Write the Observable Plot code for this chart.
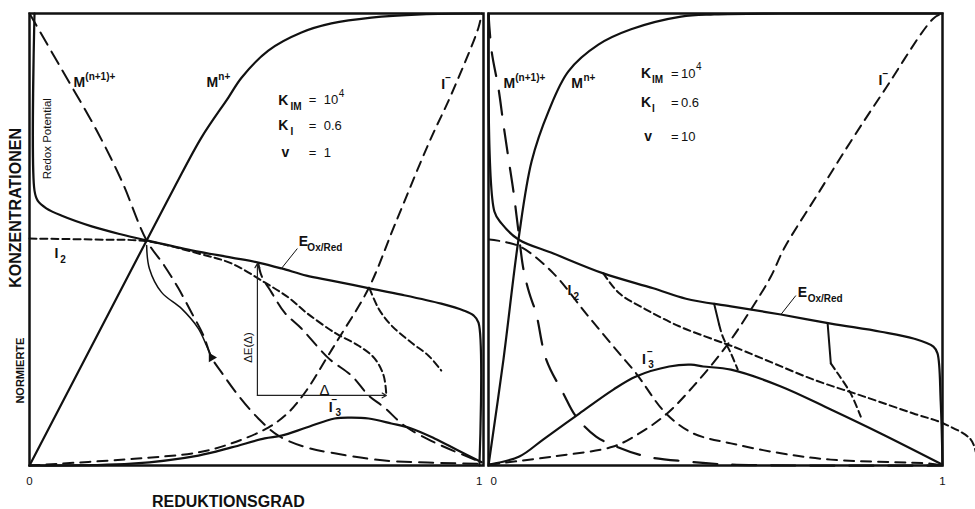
<!DOCTYPE html>
<html>
<head>
<meta charset="utf-8">
<script src="https://cdn.jsdelivr.net/npm/d3@7"></script>
<script src="https://cdn.jsdelivr.net/npm/@observablehq/plot@0.6"></script>
<style>
  html, body { margin: 0; padding: 0; background: #fff; }
  #chart svg { display: block; }
</style>
</head>
<body>
<div id="chart"></div>
<script>
// ---------- data (x = Reduktionsgrad 0..1, y = normierte Konzentration 0..1) ----------
const panels = ["L", "R"];

// left panel (v = 1)
const leftRedox = [[0.011,1.0],[0.011,0.608],[0.018,0.586],[0.037,0.569],[0.070,0.553],[0.137,0.529],[0.203,0.511],[0.258,0.498],[0.357,0.476],[0.445,0.460],[0.504,0.449],[0.555,0.436],[0.610,0.420],[0.665,0.409],[0.749,0.392],[0.819,0.378],[0.907,0.358],[0.956,0.343],[0.978,0.332],[0.989,0.316],[0.991,0.0]];
const leftMn = [[0,0],[0.258,0.498],[0.319,0.615],[0.379,0.726],[0.438,0.814],[0.467,0.858],[0.526,0.918],[0.599,0.958],[0.665,0.978],[0.753,0.991],[0.863,0.998],[0.991,1.0]];
const leftMox = [[0,1],[0.066,0.885],[0.148,0.741],[0.203,0.630],[0.258,0.498],[0.297,0.442],[0.328,0.392],[0.357,0.338],[0.383,0.288],[0.401,0.239],[0.423,0.206],[0.460,0.155],[0.504,0.104],[0.548,0.066],[0.610,0.040],[0.672,0.027],[0.782,0.011],[0.996,0.004]];
const leftMoxBranch = [[0.258,0.487],[0.264,0.436],[0.291,0.383],[0.335,0.347],[0.372,0.303],[0.390,0.265],[0.401,0.239]];
const leftI2 = [[0,0.502],[0.137,0.500],[0.258,0.496],[0.372,0.469],[0.445,0.447],[0.518,0.405],[0.570,0.372],[0.610,0.338],[0.672,0.294],[0.725,0.265],[0.760,0.237],[0.780,0.199],[0.786,0.155]];
const leftI2Branch = [[0.504,0.447],[0.511,0.420],[0.533,0.383],[0.562,0.338],[0.599,0.303],[0.659,0.237],[0.709,0.199],[0.747,0.155],[0.782,0.128],[0.826,0.088],[0.892,0.051],[0.996,0.007]];
const leftIminus = [[0,0],[0.231,0.015],[0.372,0.029],[0.445,0.049],[0.526,0.084],[0.570,0.117],[0.610,0.166],[0.654,0.237],[0.681,0.281],[0.747,0.392],[0.804,0.531],[0.879,0.712],[0.930,0.823],[0.989,0.969],[0.996,1.0]];
const leftIminusBranch = [[0.749,0.392],[0.769,0.347],[0.797,0.310],[0.841,0.272],[0.879,0.243],[0.907,0.210]];
const leftI3 = [[0,0],[0.225,0.004],[0.372,0.022],[0.445,0.040],[0.518,0.060],[0.555,0.066],[0.610,0.084],[0.672,0.104],[0.709,0.106],[0.747,0.104],[0.797,0.093],[0.841,0.082],[0.892,0.060],[0.941,0.035],[0.996,0.007]];
const leftDeltaArrows = [{x1:0.502,y1:0.155,x2:0.502,y2:0.447},{x1:0.502,y1:0.155,x2:0.786,y2:0.155}];
const leftMarker = [[0.401,0.239]];

// right panel (v = 10)
const rightRedox = [[0,0.998],[0.013,0.562],[0.029,0.535],[0.066,0.500],[0.143,0.469],[0.253,0.425],[0.363,0.392],[0.435,0.369],[0.534,0.352],[0.644,0.334],[0.754,0.314],[0.864,0.296],[0.936,0.281],[0.980,0.263],[0.989,0.248],[0.996,0.142],[1.0,0.002]];
const rightMn = [[0,0],[0.033,0.235],[0.066,0.500],[0.095,0.673],[0.132,0.783],[0.176,0.872],[0.242,0.931],[0.314,0.965],[0.424,0.993],[0.497,0.998],[0.644,1.0],[1.0,1.0]];
const rightMox = [[0,1],[0.007,0.916],[0.022,0.834],[0.033,0.754],[0.044,0.679],[0.055,0.606],[0.066,0.518],[0.077,0.434],[0.090,0.381],[0.105,0.336],[0.127,0.235],[0.165,0.159],[0.193,0.108],[0.237,0.064],[0.281,0.042],[0.347,0.020],[0.435,0.009],[0.534,0.002],[1.0,0.0]];
const rightI2 = [[0.002,0.500],[0.068,0.485],[0.143,0.425],[0.215,0.336],[0.288,0.248],[0.325,0.204],[0.391,0.115],[0.451,0.071],[0.534,0.049],[0.644,0.027],[0.754,0.013],[0.974,0.004],[1.0,0.0]];
const rightI2Branch = [[0.253,0.425],[0.288,0.381],[0.347,0.345],[0.420,0.308],[0.495,0.279],[0.534,0.265],[0.607,0.235],[0.716,0.190],[0.826,0.153],[0.936,0.115],[1.002,0.093],[1.062,0.058],[1.073,0.031]];
const rightI3 = [[0.002,0.002],[0.068,0.020],[0.121,0.058],[0.200,0.115],[0.275,0.168],[0.325,0.197],[0.398,0.219],[0.446,0.223],[0.473,0.219],[0.534,0.212],[0.644,0.175],[0.754,0.124],[0.864,0.071],[0.996,0.004]];
const rightIminus = [[0.002,0.002],[0.143,0.020],[0.275,0.042],[0.332,0.071],[0.391,0.113],[0.451,0.175],[0.523,0.263],[0.578,0.345],[0.622,0.418],[0.651,0.480],[0.725,0.600],[0.798,0.717],[0.870,0.827],[0.980,0.989],[1.0,1.0]];
const rightBranchA = [[0.497,0.358],[0.508,0.312]];
const rightBranchADash = [[0.508,0.312],[0.516,0.285],[0.534,0.248],[0.549,0.212]];
const rightBranchB = [[0.747,0.314],[0.754,0.226]];
const rightBranchBDash = [[0.754,0.226],[0.769,0.204],[0.798,0.159],[0.820,0.108]];

// labels (text + anchor point in data units)
const labelsMain = [
  {panel:"L", x:0.097, y:0.847, text:"M"},
  {panel:"L", x:0.390, y:0.847, text:"M"},
  {panel:"L", x:0.548, y:0.808, text:"K"},
  {panel:"L", x:0.548, y:0.752, text:"K"},
  {panel:"L", x:0.555, y:0.692, text:"v"},
  {panel:"L", x:0.907, y:0.843, text:"I"},
  {panel:"L", x:0.593, y:0.496, text:"E"},
  {panel:"L", x:0.055, y:0.469, text:"I"},
  {panel:"L", x:0.659, y:0.128, text:"I"},
  {panel:"R", x:0.033, y:0.845, text:"M"},
  {panel:"R", x:0.182, y:0.845, text:"M"},
  {panel:"R", x:0.336, y:0.867, text:"K"},
  {panel:"R", x:0.336, y:0.803, text:"K"},
  {panel:"R", x:0.343, y:0.728, text:"v"},
  {panel:"R", x:0.859, y:0.852, text:"I"},
  {panel:"R", x:0.681, y:0.383, text:"E"},
  {panel:"R", x:0.174, y:0.387, text:"I"},
  {panel:"R", x:0.338, y:0.235, text:"I"}
];
const labelsValues = [
  {panel:"L", x:0.615, y:0.808, text:"="}, {panel:"L", x:0.648, y:0.808, text:"10"},
  {panel:"L", x:0.615, y:0.752, text:"="}, {panel:"L", x:0.648, y:0.752, text:"0.6"},
  {panel:"L", x:0.615, y:0.692, text:"="}, {panel:"L", x:0.648, y:0.692, text:"1"},
  {panel:"R", x:0.402, y:0.867, text:"="}, {panel:"R", x:0.424, y:0.867, text:"10"},
  {panel:"R", x:0.402, y:0.803, text:"="}, {panel:"R", x:0.424, y:0.803, text:"0.6"},
  {panel:"R", x:0.402, y:0.728, text:"="}, {panel:"R", x:0.424, y:0.728, text:"10"}
];
const labelsSub = [
  {panel:"L", x:0.575, y:0.794, text:"IM"},
  {panel:"L", x:0.575, y:0.739, text:"I"},
  {panel:"L", x:0.612, y:0.482, text:"Ox/Red"},
  {panel:"L", x:0.068, y:0.456, text:"2"},
  {panel:"L", x:0.674, y:0.117, text:"3"},
  {panel:"R", x:0.360, y:0.854, text:"IM"},
  {panel:"R", x:0.360, y:0.790, text:"I"},
  {panel:"R", x:0.703, y:0.369, text:"Ox/Red"},
  {panel:"R", x:0.187, y:0.374, text:"2"},
  {panel:"R", x:0.352, y:0.223, text:"3"}
];
const labelsSup = [
  {panel:"L", x:0.123, y:0.860, text:"(n+1)+"},
  {panel:"L", x:0.416, y:0.860, text:"n+"},
  {panel:"L", x:0.916, y:0.858, text:"−"},
  {panel:"L", x:0.665, y:0.146, text:"−"},
  {panel:"R", x:0.059, y:0.858, text:"(n+1)+"},
  {panel:"R", x:0.209, y:0.858, text:"n+"},
  {panel:"R", x:0.868, y:0.866, text:"−"},
  {panel:"R", x:0.349, y:0.252, text:"−"}
];
const labelsValueSup = [
  {panel:"L", x:0.681, y:0.823, text:"4"},
  {panel:"R", x:0.457, y:0.883, text:"4"}
];
const leaders = [
  {panel:"L", x1:0.555, y1:0.436, x2:0.590, y2:0.480},
  {panel:"R", x1:0.644, y1:0.334, x2:0.677, y2:0.376}
];
const rotatedSmall = [
  {panel:"L", x:0.040, y:0.723, text:"Redox Potential"},
  {panel:"L", x:0.482, y:0.261, text:"ΔE(Δ)"}
];
const deltaLabel = [{panel:"L", x:0.650, y:0.166, text:"Δ"}];
const yTitle = [{panel:"L", x:-0.029, y:0.570, text:"KONZENTRATIONEN"}];
const yTitle2 = [{panel:"L", x:-0.020, y:0.210, text:"NORMIERTE"}];
const xTitle = [{panel:"L", x:0.438, y:-0.080, text:"REDUKTIONSGRAD"}];
const xTickValues = [0, 1];
const xTickLabels = ["0", "1"];

// ---------- helpers ----------
const FONT = "'Liberation Sans', Arial, Helvetica, sans-serif";
const rows = (panel, pts) => pts.map(([x, y]) => ({panel, x, y}));
const lineOf = (panel, pts, opts = {}) =>
  Plot.line(rows(panel, pts), {x: "x", y: "y", fx: "panel", stroke: "#111", strokeWidth: 2, curve: "catmull-rom", ...opts});
const SHORT = "7,4", MED = "10,7", LONG = "14,8", XLONG = "24,15";

const ticks = panels.flatMap(p => xTickValues.map((v, i) => ({panel: p, x: v, y: -0.035, text: xTickLabels[i]})));
const tickMid = ticks.filter(d => (d.panel === "L" && d.x === 0) || (d.panel === "R" && d.x === 1));
const tickEnd = ticks.filter(d => d.panel === "L" && d.x === 1);
const tickStart = ticks.filter(d => d.panel === "R" && d.x === 0);

const txt = (data, opts) => Plot.text(data, {x: "x", y: "y", fx: "panel", text: "text", fill: "#111", fontFamily: FONT, ...opts});

const chart = Plot.plot({
  width: 975,
  height: 509,
  marginTop: 13,
  marginBottom: 44,
  marginLeft: 28,
  marginRight: 33,
  x: {domain: [0, 1], axis: null},
  y: {domain: [0, 1], axis: null},
  fx: {domain: panels, axis: null, paddingInner: 0.0109, paddingOuter: 0},
  style: {background: "#fff", fontFamily: FONT},
  marks: [
    Plot.frame({stroke: "#111", strokeWidth: 2.5}),
    // left panel
    lineOf("L", leftRedox, {strokeWidth: 2.2}),
    lineOf("L", leftMn, {strokeWidth: 2.2}),
    lineOf("L", leftMox, {strokeDasharray: LONG}),
    lineOf("L", leftMoxBranch, {strokeWidth: 1.5}),
    lineOf("L", leftI2, {strokeDasharray: SHORT}),
    lineOf("L", leftI2Branch, {strokeDasharray: LONG}),
    lineOf("L", leftIminus, {strokeDasharray: MED}),
    lineOf("L", leftIminusBranch, {strokeDasharray: SHORT}),
    lineOf("L", leftI3, {strokeWidth: 2.2}),
    Plot.arrow(leftDeltaArrows, {x1: "x1", y1: "y1", x2: "x2", y2: "y2", fx: () => "L", stroke: "#222", strokeWidth: 1.2, headLength: 6}),
    Plot.dot(rows("L", leftMarker), {x: "x", y: "y", fx: "panel", symbol: "triangle", r: 3.5, fill: "#111", rotate: -30}),
    // right panel
    lineOf("R", rightRedox, {strokeWidth: 2.2}),
    lineOf("R", rightMn, {strokeWidth: 2.2}),
    lineOf("R", rightMox, {strokeDasharray: XLONG, strokeWidth: 2.2}),
    lineOf("R", rightI2, {strokeDasharray: MED}),
    lineOf("R", rightI2Branch, {strokeDasharray: SHORT}),
    lineOf("R", rightI3, {strokeWidth: 2.2}),
    lineOf("R", rightIminus, {strokeDasharray: MED}),
    lineOf("R", rightBranchA, {curve: "linear"}),
    lineOf("R", rightBranchADash, {strokeDasharray: SHORT}),
    lineOf("R", rightBranchB, {curve: "linear"}),
    lineOf("R", rightBranchBDash, {strokeDasharray: SHORT}),
    // leader lines
    Plot.link(leaders, {x1: "x1", y1: "y1", x2: "x2", y2: "y2", fx: "panel", stroke: "#111", strokeWidth: 1}),
    // labels
    txt(labelsMain, {textAnchor: "start", fontSize: 14, fontWeight: "bold"}),
    txt(labelsValues, {textAnchor: "start", fontSize: 13}),
    txt(labelsValueSup, {textAnchor: "start", fontSize: 10}),
    txt(labelsSub, {textAnchor: "start", fontSize: 10, fontWeight: "bold"}),
    txt(labelsSup, {textAnchor: "start", fontSize: 10, fontWeight: "bold"}),
    txt(rotatedSmall, {rotate: -90, fontSize: 11.5}),
    txt(deltaLabel, {fontSize: 15}),
    txt(yTitle, {rotate: -90, fontSize: 16, fontWeight: "bold"}),
    txt(yTitle2, {rotate: -90, fontSize: 11, fontWeight: "bold"}),
    txt(xTitle, {fontSize: 16, fontWeight: "bold"}),
    txt(tickMid, {fontSize: 11.5}),
    txt(tickEnd, {fontSize: 11.5, textAnchor: "end", dx: -1}),
    txt(tickStart, {fontSize: 11.5, textAnchor: "start", dx: 2})
  ]
});
document.getElementById("chart").appendChild(chart);
</script>
</body>
</html>
